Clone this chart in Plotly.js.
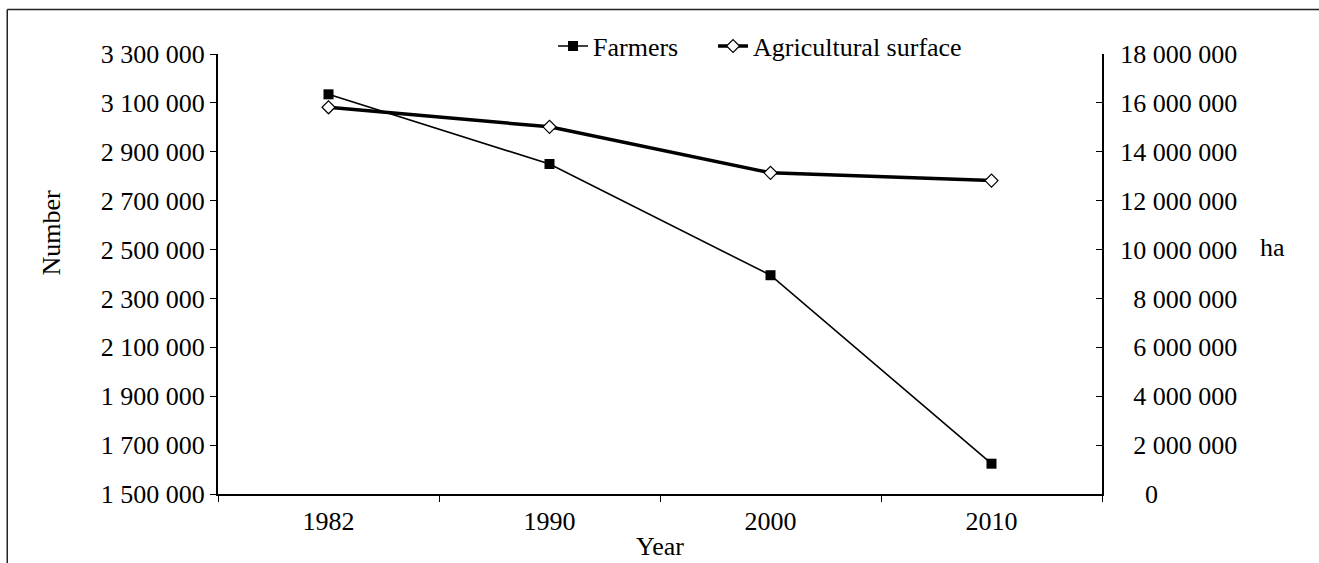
<!DOCTYPE html>
<html>
<head>
<meta charset="utf-8">
<script src="https://cdn.plot.ly/plotly-3.0.1.min.js"></script>
<style>
  html, body { margin: 0; padding: 0; background: #fff; }
  #chart { width: 1319px; height: 563px; }
</style>
</head>
<body>
<div id="chart"></div>
<script>
// ---- data ----
const years = ["1982", "1990", "2000", "2010"];
const farmers = [3135000, 2850000, 2395000, 1624000];
const agriculturalSurface = [15820000, 15020000, 13140000, 12820000];

// ---- tick labels ----
const leftTickVals = [1500000, 1700000, 1900000, 2100000, 2300000, 2500000, 2700000, 2900000, 3100000, 3300000];
const leftTickText = ["1 500 000", "1 700 000", "1 900 000", "2 100 000", "2 300 000", "2 500 000", "2 700 000", "2 900 000", "3 100 000", "3 300 000"];
const rightTickVals = [0, 2000000, 4000000, 6000000, 8000000, 10000000, 12000000, 14000000, 16000000, 18000000];
const rightTickText = ["\u00a0\u00a0\u00a0\u20090", "\u00a0\u00a02 000 000", "\u00a0\u00a04 000 000", "\u00a0\u00a06 000 000", "\u00a0\u00a08 000 000", "10 000 000", "12 000 000", "14 000 000", "16 000 000", "18 000 000"];

const FONT = "Liberation Serif";

const traces = [
  {
    x: years, y: farmers, name: "Farmers", type: "scatter", mode: "lines+markers",
    line: { color: "#000", width: 1.6 },
    marker: { symbol: "square", size: 10, color: "#000" },
    yaxis: "y", legend: "legend"
  },
  {
    x: years, y: agriculturalSurface, name: "Agricultural surface", type: "scatter", mode: "lines+markers",
    line: { color: "#000", width: 3.5 },
    marker: { symbol: "diamond", size: 10, color: "#fff", line: { color: "#000", width: 1.2 } },
    yaxis: "y2", legend: "legend2"
  }
];

const legendBase = {
  orientation: "h", xanchor: "left", y: 1.018, yanchor: "middle",
  font: { family: FONT, size: 26, color: "#000" },
  bgcolor: "rgba(0,0,0,0)", borderwidth: 0
};

const layout = {
  width: 1319, height: 563,
  margin: { l: 218, r: 217, t: 54, b: 69, pad: 0 },
  paper_bgcolor: "#fff", plot_bgcolor: "#fff",
  font: { family: FONT, size: 26, color: "#000" },
  showlegend: true,
  legend: Object.assign({}, legendBase, { x: 0.379 }),
  legend2: Object.assign({}, legendBase, { x: 0.560 }),
  xaxis: {
    type: "category", range: [-0.5, 3.5], fixedrange: true,
    showline: true, linecolor: "#000", linewidth: 1.5,
    showgrid: false, zeroline: false,
    ticks: "outside", tickson: "boundaries", ticklen: 6, tickcolor: "#000", tickwidth: 1,
    tickfont: { family: FONT, size: 26, color: "#000" },
    ticklabelstandoff: 3,
    title: { text: "Year", font: { family: FONT, size: 26, color: "#000" }, standoff: 2 },
    automargin: false
  },
  yaxis: {
    range: [1500000, 3300000], fixedrange: true,
    tickmode: "array", tickvals: leftTickVals, ticktext: leftTickText,
    showline: true, linecolor: "#000", linewidth: 2,
    showgrid: false, zeroline: false,
    ticks: "outside", ticklen: 6, tickcolor: "#000", tickwidth: 1,
    tickfont: { family: FONT, size: 26, color: "#000" },
    ticklabelstandoff: 0,
    automargin: false
  },
  yaxis2: {
    range: [0, 18000000], fixedrange: true, overlaying: "y", side: "right",
    tickmode: "array", tickvals: rightTickVals, ticktext: rightTickText,
    showline: true, linecolor: "#000", linewidth: 2,
    showgrid: false, zeroline: false,
    ticks: "inside", ticklen: 6, tickcolor: "#000", tickwidth: 1,
    tickfont: { family: FONT, size: 26, color: "#000" },
    ticklabelstandoff: 11,
    automargin: false
  },
  annotations: [
    { text: "Number", xref: "paper", yref: "paper", x: -0.188, y: 0.594, textangle: -90,
      showarrow: false, xanchor: "center", yanchor: "middle", font: { family: FONT, size: 26, color: "#000" } },
    { text: "ha", xref: "paper", yref: "paper", x: 1.193, y: 0.561,
      showarrow: false, xanchor: "center", yanchor: "middle", font: { family: FONT, size: 26, color: "#000" } }
  ],
  shapes: [
    { type: "line", xref: "paper", yref: "paper", x0: -0.2384, x1: -0.2384, y0: -0.3, y1: 1.1011,
      line: { color: "#222", width: 1.5 } },
    { type: "line", xref: "paper", yref: "paper", x0: -0.2384, x1: 1.3, y0: 1.1011, y1: 1.1011,
      line: { color: "#222", width: 1.5 } }
  ]
};

Plotly.newPlot("chart", traces, layout, { displayModeBar: false, staticPlot: true });
</script>
</body>
</html>
